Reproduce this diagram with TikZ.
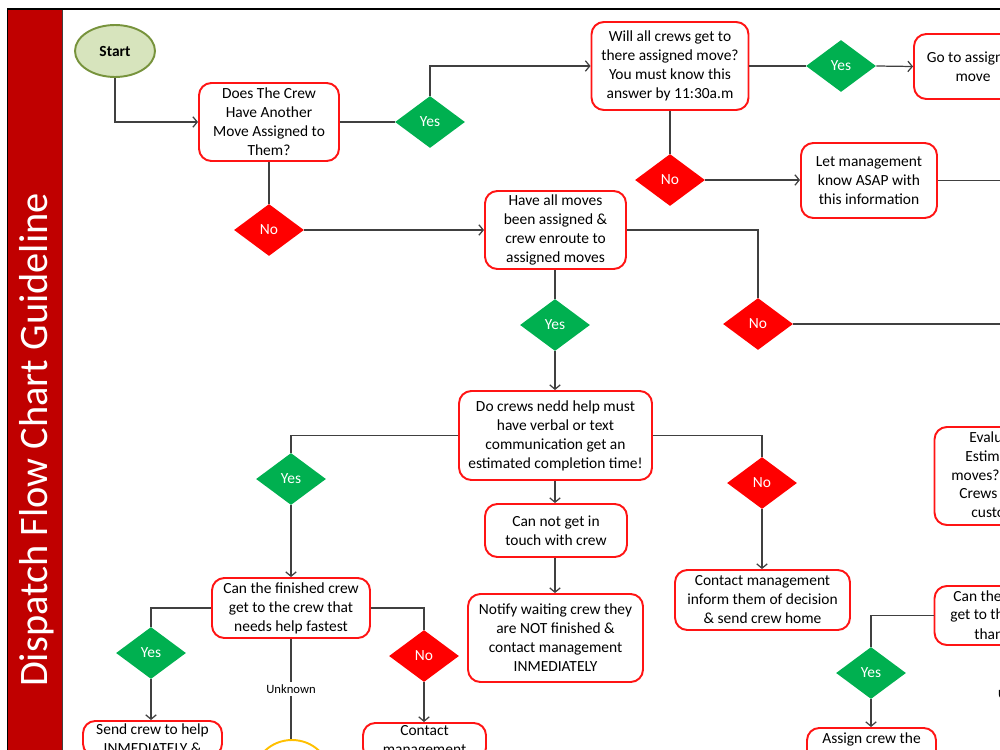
\documentclass[tikz,border=0pt]{standalone}
\usepackage{fontspec}
\setmainfont{Carlito}
\usepackage{xcolor}
\usetikzlibrary{shapes, shapes.geometric, arrows.meta, calc, positioning}
\definecolor{bandred}{RGB}{192,0,0}
\definecolor{boxred}{RGB}{255,20,20}
\definecolor{yesgreen}{RGB}{0,176,80}
\definecolor{nored}{RGB}{255,0,0}
\definecolor{startfill}{RGB}{215,228,189}
\definecolor{startline}{RGB}{119,147,60}
\definecolor{conngrey}{RGB}{64,64,64}
\definecolor{unkyellow}{RGB}{255,192,0}

\begin{document}
\begin{tikzpicture}[x=0.02cm, y=-0.02cm,
            box/.style={draw=boxred, line width=1.1pt, rounded corners=7pt, fill=white,
                align=center, inner sep=2pt, font=\fontsize{8.8}{10.8}\selectfont},
            yesdia/.style={diamond, fill=yesgreen, inner sep=0pt, minimum width=1.4cm,
                minimum height=1.04cm, text=white, font=\fontsize{8.8}{10.8}\selectfont},
            nodia/.style={yesdia, fill=nored},
            conn/.style={draw=conngrey, line width=0.7pt},
            frag/.style={anchor=west, inner sep=0pt, font=\fontsize{8.8}{10.8}\selectfont},
            unk/.style={fill=white, inner sep=1.5pt, font=\fontsize{7.2}{8.6}\selectfont},
            >={Straight Barb[length=2.5pt, width=6pt]}]
            \useasboundingbox (0,0) rectangle (1000,750);
            \clip (0,0) rectangle (1000,750);

            \fill[bandred] (7,9) rectangle (62,760);
            \draw[black, line width=0.5pt] (7,9) -- (7,760);
            \draw[conngrey, line width=0.5pt] (62,9) -- (62,760);
            \draw[black, line width=1.2pt] (7,9) -- (1010,9);
            \node[rotate=90, text=white, font=\fontsize{23}{27}\selectfont] (title) at (37,440) {Dispatch Flow Chart Guideline};

            \node[ellipse, draw=startline, fill=startfill, line width=1.1pt, minimum width=1.6cm,
                minimum height=1.04cm, font=\fontsize{8.8}{10.8}\selectfont\bfseries] (start) at (115,51) {Start};
            \node[box, minimum width=2.8cm, minimum height=1.56cm] (crew) at (269,122) {Does The Crew\\Have Another\\Move Assigned to\\Them?};
            \node[yesdia] (yesa) at (430,122) {Yes};
            \node[box, minimum width=3.14cm, minimum height=1.76cm] (willall) at (670,66) {Will all crews get to\\there assigned move?\\You must know this\\answer by 11:30a.m};
            \node[yesdia] (yesb) at (841,66) {Yes};
            \node[box, minimum width=2.36cm, minimum height=1.3cm] (goto) at (973,66.5) {Go to assigned\\move};
            \node[nodia] (noa) at (670,180) {No};
            \node[box, minimum width=2.72cm, minimum height=1.5cm] (letmgmt) at (869,180.5) {Let management\\know ASAP with\\this information};
            \node[nodia] (nob) at (269,230) {No};
            \node[box, minimum width=2.82cm, minimum height=1.56cm] (allmoves) at (555.5,230) {Have all moves\\been assigned \&\\crew enroute to\\assigned moves};
            \node[nodia] (noc) at (758,324) {No};
            \node[yesdia] (yesc) at (555,325) {Yes};
            \node[box, minimum width=3.86cm, minimum height=1.78cm] (needhelp) at (555.5,435.5) {Do crews nedd help must\\have verbal or text\\communication get an\\estimated completion time!};
            \node[yesdia] (yesd) at (291,479) {Yes};
            \node[nodia] (nod) at (762,483) {No};
            \node[box, minimum width=3.5cm, minimum height=1.2cm] (sendhome) at (762.5,600) {Contact management\\inform them of decision\\\& send crew home};
            \node[box, minimum width=2.84cm, minimum height=1.06cm] (notouch) at (556,530.5) {Can not get in\\touch with crew};
            \node[box, minimum width=3.5cm, minimum height=1.76cm] (notify) at (555.5,638) {Notify waiting crew they\\are NOT finished \&\\contact management\\INMEDIATELY};
            \node[box, minimum width=3.16cm, minimum height=1.2cm] (fastest) at (291,608) {Can the finished crew\\get to the crew that\\needs help fastest};
            \node[yesdia] (yese) at (151,653) {Yes};
            \node[nodia] (noe) at (424,656) {No};
            \node[box, minimum width=2.78cm, anchor=north, inner ysep=1.5pt] (sendnow) at (152.5,720) {Send crew to help\\INMEDIATELY \&};
            \node[box, minimum width=2.46cm, anchor=north, inner ysep=1.5pt] (contact) at (424.5,722) {Contact\\management};
            \node[ellipse, draw=unkyellow, line width=1.1pt, minimum width=1.5cm, minimum height=1.4cm] (unknownend) at (292,775) {};

            \node[box, minimum width=3.3cm, minimum height=1.96cm] (evaluate) at (1017,476) {};
            \node[frag] at (969,437) {Evalu};
            \node[frag] at (965,456) {Estim};
            \node[frag] at (951,475) {moves?};
            \node[frag] at (959,494) {Crews};
            \node[frag] at (971,513) {custo};
            \node[box, minimum width=3.3cm, minimum height=1.18cm] (canthe) at (1017,615.5) {};
            \node[frag] at (953,596) {Can the};
            \node[frag] at (950,615) {get to th};
            \node[frag] at (974,634) {than};
            \node[yesdia] (yesf) at (871,673) {Yes};
            \node[box, minimum width=2.58cm, anchor=north, inner ysep=2.5pt, text depth=14pt] (assign) at (871.5,727) {Assign crew the};
            \node[unk, anchor=west] (unkright) at (995,694) {Unknown};
            \node[ellipse, draw=unkyellow, line width=1.1pt, minimum width=1.5cm, minimum height=1.4cm] (unkrightend) at (1030,780) {};

            \coordinate (edgea) at (1010,180.5);
            \coordinate (edgeb) at (1010,324);

            \draw[conn, ->] (start.south) |- (crew.west);
            \draw[conn] (crew.east) -- (yesa.west);
            \draw[conn, ->] (yesa.north) |- (willall.west);
            \draw[conn] (willall.east) -- (yesb.west);
            \draw[conn, ->] (yesb.east) -- (goto.west);
            \draw[conn] (willall.south) -- (noa.north);
            \draw[conn, ->] (noa.east) -- (letmgmt.west |- noa.east);
            \draw[conn] (letmgmt.east) -- (edgea);
            \draw[conn] (crew.south) -- (nob.north);
            \draw[conn, ->] (nob.east) -- (allmoves.west |- nob.east);
            \draw[conn] (allmoves.east) -| (noc.north);
            \draw[conn] (noc.east) -- (edgeb);
            \draw[conn] (allmoves.south -| yesc.north) -- (yesc.north);
            \draw[conn, ->] (yesc.south) -- (needhelp.north -| yesc.south);
            \draw[conn] (needhelp.west) -| (yesd.north);
            \draw[conn] (needhelp.east) -| (nod.north);
            \draw[conn, ->] (nod.south) -- (sendhome.north -| nod.south);
            \draw[conn, ->] (needhelp.south -| yesc.south) -- (notouch.north -| yesc.south);
            \draw[conn, ->] (notouch.south -| yesc.south) -- (notify.north -| yesc.south);
            \draw[conn, ->] (yesd.south) -- (fastest.north);
            \draw[conn] (fastest.west) -| (yese.north);
            \draw[conn, ->] (yese.south) -- (sendnow.north -| yese.south);
            \draw[conn] (fastest.east) -| (noe.north);
            \draw[conn, ->] (noe.south) -- (contact.north -| noe.south);
            \draw[conn] (fastest.south) -- node[unk] {Unknown} (fastest.south |- unknownend.north);
            \draw[conn] (canthe.west) -| (yesf.north);
            \draw[conn, ->] (yesf.south) -- (assign.north -| yesf.south);

        \end{tikzpicture}
\end{document}
